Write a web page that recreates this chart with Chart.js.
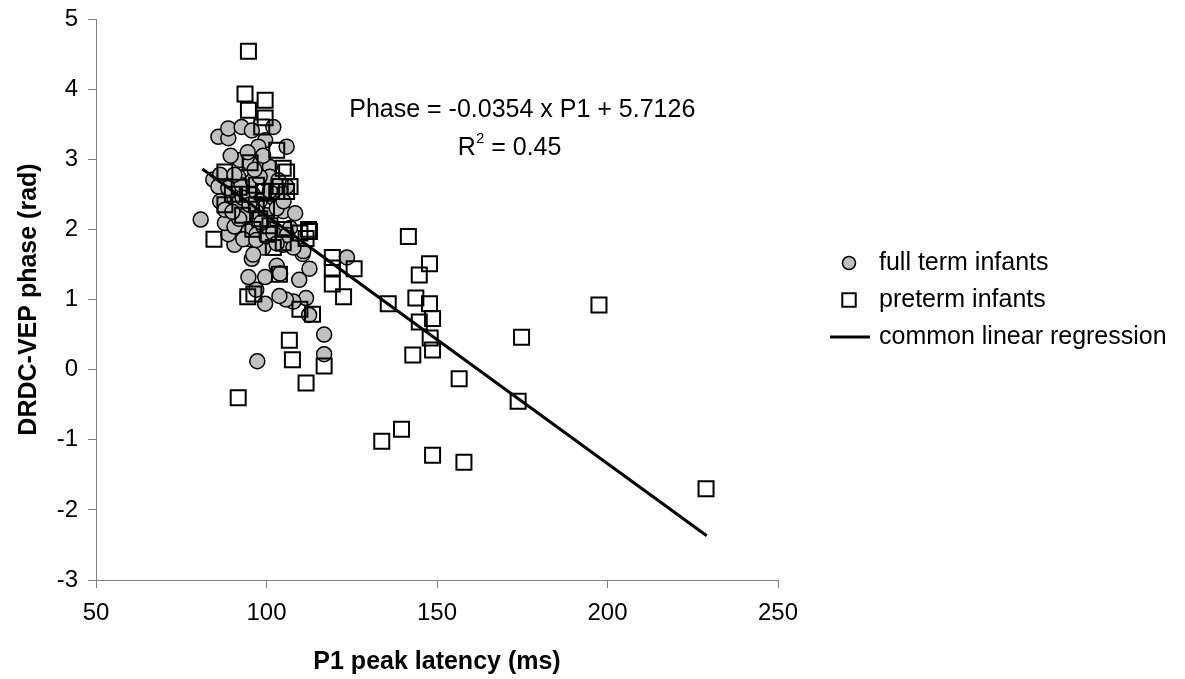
<!DOCTYPE html>
<html>
<head>
<meta charset="utf-8">
<script src="https://cdn.jsdelivr.net/npm/chart.js@4.4.0/dist/chart.umd.min.js"></script>
<style>
  html, body { margin: 0; padding: 0; background: #fff; }
</style>
</head>
<body>
<canvas id="phaseChart" width="1185" height="679"></canvas>
<script>
// full term infants: P1 latency (ms) and DRDC-VEP phase (rad)
const fullTermLatency = [
  80.7, 97.3, 116.9, 116.9, 112.5, 111.6, 107.9, 105.7, 103.8, 99.6,
  97.0, 94.7, 99.6, 103.0, 104.0, 109.6, 112.6, 110.6, 123.6, 95.7,
  95.0, 94.7, 90.6, 88.8, 87.8, 90.6, 93.2, 85.9, 88.8, 88.8,
  92.7, 95.7, 102.0, 105.9, 99.6, 97.6, 92.2, 95.2, 98.1, 101.0,
  84.4, 86.8, 91.7, 93.7, 100.1, 87.4, 86.4, 85.9, 88.8, 86.4,
  87.8, 91.7, 92.7, 90.6, 101.0, 104.9, 108.4, 105.9, 97.1, 101.0,
  106.9, 104.9, 110.8, 99.1, 107.9, 96.1, 96.0, 98.0, 100.0, 102.0,
  104.0, 99.0, 97.0, 94.0, 96.0, 103.0, 98.0, 101.0, 93.0, 95.0,
  97.0, 100.0, 102.0, 106.0, 103.0, 92.0, 89.5, 94.5, 99.0, 103.5,
  90.0, 96.5, 105.0, 98.5
];
const fullTermPhase = [
  2.14, 0.12, 0.50, 0.22, 0.78, 1.02, 0.97, 1.00, 1.05, 0.94,
  1.14, 1.32, 1.32, 1.48, 1.37, 1.28, 1.44, 1.65, 1.60, 1.58,
  1.86, 1.97, 1.78, 1.93, 2.09, 2.04, 1.86, 3.32, 3.30, 3.44,
  3.46, 3.41, 3.46, 3.18, 3.27, 3.18, 2.99, 2.94, 2.94, 2.89,
  2.71, 2.66, 2.75, 2.61, 2.71, 2.42, 2.78, 2.61, 2.59, 2.40,
  2.28, 2.38, 2.63, 2.78, 2.75, 2.26, 2.23, 2.61, 1.93, 2.00,
  2.02, 1.78, 1.69, 1.74, 1.74, 1.64, 2.50, 2.40, 2.20, 2.45,
  2.55, 2.05, 2.25, 2.20, 2.70, 2.30, 2.75, 2.55, 2.45, 2.35,
  1.85, 1.90, 1.95, 1.92, 1.80, 2.15, 3.05, 3.10, 3.05, 2.70,
  2.25, 2.85, 2.40, 2.10
];

// preterm infants
const pretermLatency = [
  141.6, 147.8, 144.8, 125.7, 119.3, 119.3, 119.3, 122.6, 135.7, 143.8,
  147.8, 144.8, 148.7, 148.0, 148.7, 142.9, 197.5, 174.8, 156.5, 173.8,
  139.6, 133.8, 148.7, 157.9, 228.9, 84.6, 94.5, 96.3, 103.8, 109.8,
  113.5, 106.7, 107.6, 116.9, 111.6, 91.7, 112.6, 111.6, 94.7, 93.7,
  99.6, 94.7, 99.6, 98.6, 103.0, 105.9, 106.9, 104.0, 87.8, 87.8,
  105.9, 97.1, 99.1, 103.0, 112.3, 109.8, 100.5, 104.9, 102.0, 104.9,
  95.2, 92.0, 95.0, 97.0, 96.0, 100.0, 98.0, 101.0, 93.0, 90.0,
  105.0
];
const pretermPhase = [
  1.90, 1.51, 1.35, 1.44, 1.60, 1.45, 1.22, 1.04, 0.94, 1.02,
  0.94, 0.68, 0.73, 0.45, 0.28, 0.21, 0.92, 0.46, -0.13, -0.45,
  -0.85, -1.02, -1.22, -1.32, -1.70, 1.86, 1.04, 1.08, 1.36, 0.86,
  0.79, 0.42, 0.14, 0.05, -0.19, -0.40, 1.97, 1.87, 4.54, 3.93,
  3.84, 3.70, 3.59, 3.46, 3.13, 2.82, 2.61, 2.61, 2.82, 2.35,
  2.54, 2.63, 2.54, 2.54, 2.00, 1.95, 1.93, 1.81, 1.74, 2.87,
  2.95, 2.60, 2.50, 2.35, 2.00, 2.30, 2.15, 2.05, 2.20, 2.50,
  2.00
];

// common linear regression, end points
const regressionLatency = [81.2, 229.1];
const regressionPhase = [2.86, -2.37];

const xTicks = [50, 100, 150, 200, 250];
const yTicks = [-3, -2, -1, 0, 1, 2, 3, 4, 5];

const FONT = 'Arial, "Liberation Sans", sans-serif';
const AXIS_GREY = '#808080';

function toPoints(xs, ys) {
  return xs.map((x, i) => ({ x, y: ys[i] }));
}

// equation text inside the plot, placed with the scales
const equationPlugin = {
  id: 'equation',
  afterDraw(chart) {
    const { ctx, scales } = chart;
    ctx.save();
    ctx.fillStyle = '#000';
    ctx.textBaseline = 'middle';
    ctx.textAlign = 'center';
    ctx.font = '25px ' + FONT;
    ctx.fillText('Phase = -0.0354 x P1 + 5.7126', scales.x.getPixelForValue(175), scales.y.getPixelForValue(3.7));

    // R² = 0.45 with a raised 2
    const cx = scales.x.getPixelForValue(171.3);
    const cy = scales.y.getPixelForValue(3.16);
    ctx.textAlign = 'left';
    const wR = ctx.measureText('R').width;
    const wRest = ctx.measureText(' = 0.45').width;
    ctx.font = '15px ' + FONT;
    const w2 = ctx.measureText('2').width;
    let x = cx - (wR + w2 + wRest) / 2;
    ctx.font = '25px ' + FONT;
    ctx.fillText('R', x, cy);
    ctx.font = '15px ' + FONT;
    ctx.fillText('2', x + wR, cy - 9);
    ctx.font = '25px ' + FONT;
    ctx.fillText(' = 0.45', x + wR + w2, cy);
    ctx.restore();
  }
};

// legend on the right side
const sideLegendPlugin = {
  id: 'sideLegend',
  afterDraw(chart) {
    const ctx = chart.ctx;
    const ds = chart.data.datasets;
    const rows = [263, 300, 337];
    const markX = 849;
    const textX = 879;
    ctx.save();
    ctx.font = '25px ' + FONT;
    ctx.textBaseline = 'middle';
    ctx.fillStyle = '#000';
    ds.forEach((d, i) => {
      const y = rows[i];
      ctx.save();
      if (d.type === 'line') {
        ctx.strokeStyle = d.borderColor;
        ctx.lineWidth = d.borderWidth;
        ctx.beginPath();
        ctx.moveTo(830, y);
        ctx.lineTo(870, y);
        ctx.stroke();
      } else {
        ctx.fillStyle = d.pointStyle === 'rect' ? '#fff' : d.backgroundColor;
        ctx.strokeStyle = d.borderColor;
        ctx.lineWidth = d.borderWidth;
        Chart.helpers.drawPoint(ctx, {
          pointStyle: d.pointStyle,
          radius: d.pointStyle === 'rect' ? 9.5 : 6.5,
          rotation: 0,
          borderWidth: d.borderWidth
        }, markX, y);
      }
      ctx.restore();
      ctx.fillText(d.label, textX, y);
    });
    ctx.restore();
  }
};

const ctx = document.getElementById('phaseChart').getContext('2d');
new Chart(ctx, {
  type: 'scatter',
  data: {
    datasets: [
      {
        label: 'full term infants',
        data: toPoints(fullTermLatency, fullTermPhase),
        pointStyle: 'circle',
        pointRadius: 7.5,
        backgroundColor: '#c0c0c0',
        borderColor: '#000',
        borderWidth: 1.5,
        order: 3
      },
      {
        label: 'preterm infants',
        data: toPoints(pretermLatency, pretermPhase),
        pointStyle: 'rect',
        pointRadius: 10.6,
        backgroundColor: 'rgba(255,255,255,0)',
        borderColor: '#000',
        borderWidth: 2,
        order: 2
      },
      {
        type: 'line',
        label: 'common linear regression',
        data: toPoints(regressionLatency, regressionPhase),
        borderColor: '#000',
        borderWidth: 3,
        pointRadius: 0,
        fill: false,
        order: 1
      }
    ]
  },
  options: {
    responsive: false,
    animation: false,
    events: [],
    layout: { padding: { top: 19, right: 407, left: 0, bottom: 0 } },
    plugins: {
      legend: { display: false },
      tooltip: { enabled: false }
    },
    scales: {
      x: {
        type: 'linear',
        min: 50,
        max: 250,
        afterBuildTicks: s => { s.ticks = xTicks.map(v => ({ value: v })); },
        afterFit: s => { s.height = 99; },
        ticks: { color: '#000', font: { family: FONT, size: 24 }, padding: 11, maxRotation: 0 },
        grid: { drawOnChartArea: false, color: AXIS_GREY, tickLength: 8 },
        border: { color: AXIS_GREY, width: 1 },
        title: {
          display: true,
          text: 'P1 peak latency (ms)',
          color: '#000',
          font: { family: FONT, size: 25, weight: 'bold' },
          padding: { top: 0, bottom: 2 }
        }
      },
      y: {
        type: 'linear',
        min: -3,
        max: 5,
        afterBuildTicks: s => { s.ticks = yTicks.map(v => ({ value: v })); },
        afterFit: s => { s.width = 96; s.paddingTop = 0; s.paddingBottom = 0; },
        ticks: { color: '#000', font: { family: FONT, size: 24 }, padding: 10 },
        grid: { drawOnChartArea: false, color: AXIS_GREY, tickLength: 8 },
        border: { color: AXIS_GREY, width: 1 },
        title: {
          display: true,
          text: 'DRDC-VEP phase (rad)',
          color: '#000',
          font: { family: FONT, size: 25, weight: 'bold' },
          padding: { top: 14, bottom: 0 }
        }
      }
    }
  },
  plugins: [equationPlugin, sideLegendPlugin]
});
</script>
</body>
</html>
